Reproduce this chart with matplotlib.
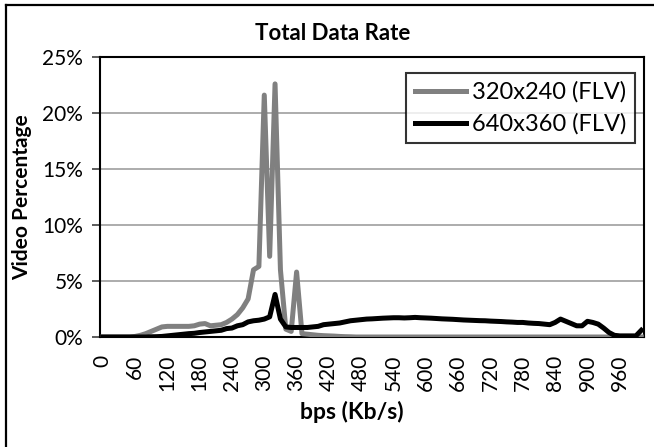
import matplotlib
matplotlib.use("Agg")
import matplotlib.pyplot as plt
from matplotlib.lines import Line2D

# Data rate categories (Kb/s), step 10
rates = list(range(0, 1001, 10))

# 320x240 (FLV) percentages
flv_320 = [0, 0, 0, 0, 0, 0, 0.05, 0.15, 0.3, 0.5,
           0.7, 0.9, 0.95, 0.95, 0.95, 0.95, 0.95, 1.0, 1.15, 1.2,
           1.0, 1.05, 1.1, 1.3, 1.6, 2.0, 2.6, 3.4, 6.0, 6.3,
           21.6, 7.2, 22.6, 6.0, 0.7, 0.5, 5.8, 0.3, 0.25, 0.2,
           0.15, 0.12, 0.1, 0.08, 0.05, 0.03, 0.02, 0, 0, 0] + [0] * 51

# 640x360 (FLV) percentages
flv_640 = [0, 0, 0, 0, 0, 0, 0, 0, 0, 0.02,
           0.03, 0.05, 0.1, 0.15, 0.2, 0.25, 0.3, 0.33, 0.4, 0.45,
           0.5, 0.55, 0.6, 0.75, 0.8, 1.0, 1.1, 1.35, 1.45, 1.5,
           1.6, 1.8, 3.8, 1.6, 0.9, 0.85, 0.85, 0.85, 0.85, 0.9,
           0.95, 1.1, 1.15, 1.2, 1.25, 1.35, 1.45, 1.5, 1.55, 1.6,
           1.62, 1.65, 1.68, 1.7, 1.72, 1.72, 1.7, 1.72, 1.75, 1.72,
           1.7, 1.68, 1.65, 1.62, 1.6, 1.58, 1.55, 1.52, 1.5, 1.48,
           1.46, 1.45, 1.42, 1.4, 1.38, 1.35, 1.33, 1.3, 1.3, 1.25,
           1.22, 1.2, 1.15, 1.1, 1.3, 1.6, 1.4, 1.2, 1.0, 1.0,
           1.4, 1.3, 1.15, 0.8, 0.4, 0.15, 0.1, 0.1, 0.1, 0.1,
           0.6]

series_names = ["320x240 (FLV)", "640x360 (FLV)"]
tick_rates = list(range(0, 961, 60))
y_ticks = [0, 5, 10, 15, 20, 25]

FONT = ["Lato", "DejaVu Sans"]
plt.rcParams["font.family"] = FONT

W, H = 654, 447
fig = plt.figure(figsize=(W / 100, H / 100), dpi=100)
ax = fig.add_axes([100 / W, (H - 337) / H, 544 / W, 280 / H])

idx = list(range(len(rates)))
ax.plot(idx, flv_320, color="#808080", lw=3.6, solid_joinstyle="round",
        label=series_names[0], zorder=3)
ax.plot(idx, flv_640, color="black", lw=3.6, solid_joinstyle="round",
        label=series_names[1], zorder=4)

ax.set_xlim(-0.5, len(rates) - 0.5)
ax.set_ylim(0, 25)
tick_idx = [rates.index(r) for r in tick_rates]
ax.set_xticks(tick_idx)
ax.set_xticklabels([str(r) for r in tick_rates], rotation=90, fontsize=15)
ax.tick_params(axis="x", length=0, pad=13)
ax.set_yticks(y_ticks)
ax.set_yticklabels([f"{v}%" for v in y_ticks], fontsize=15)
ax.tick_params(axis="y", length=6, width=1.2, color="#404040", pad=6)

ax.grid(axis="y", color="#a6a6a6", lw=1.3)
ax.set_axisbelow(True)
for s in ax.spines.values():
    s.set_color("black")
    s.set_linewidth(1.5)

fig.text(333 / W, 1 - 33 / H, "Total Data Rate", fontsize=16, fontweight="bold",
         ha="center", va="center")
fig.text(352 / W, 1 - 412 / H, "bps (Kb/s)", fontsize=16.5, fontweight="bold",
         ha="center", va="center")
fig.text(22 / W, 1 - 197 / H, "Video Percentage", fontsize=15, fontweight="bold",
         ha="center", va="center", rotation=90)

leg = ax.legend(loc="upper right", bbox_to_anchor=(535 / 544, 264 / 280),
                fontsize=17, frameon=True, fancybox=False, edgecolor="black",
                handlelength=2.2, handletextpad=0.25, borderpad=0.35,
                labelspacing=0.45, borderaxespad=0)
leg.get_frame().set_linewidth(1.5)

# outer frame edges (left and top)
fig.add_artist(Line2D([6 / W, 6 / W], [0, 1 - 5 / H], transform=fig.transFigure,
                      color="black", lw=1.6))
fig.add_artist(Line2D([6 / W, 1], [1 - 5 / H, 1 - 5 / H], transform=fig.transFigure,
                      color="black", lw=1.6))

fig.savefig("out.png", dpi=100)
